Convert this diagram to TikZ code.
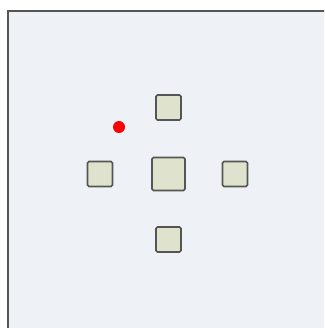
\documentclass[tikz,border=0pt]{standalone}
\usepackage{tikz}
\usetikzlibrary{positioning}
\usepackage{xcolor}
\definecolor{panelbg}{HTML}{EEF1F6}
\definecolor{edgegray}{HTML}{555555}
\definecolor{blockfill}{HTML}{DFE2CC}
\definecolor{markred}{HTML}{FF0000}

\begin{document}
\begin{tikzpicture}[x=1pt, y=-1pt,
    block/.style={draw=edgegray, fill=blockfill, line width=1.6pt, rounded corners=1.5pt, minimum size=25pt, inner sep=0pt},
    bigblock/.style={block, minimum size=33pt}]
                \useasboundingbox (0,0) rectangle (324,328);
                \clip (0,0) rectangle (324,328);
                \node[draw=edgegray, fill=panelbg, line width=2pt, minimum width=420pt, minimum height=420pt, anchor=north west] (panel) at (7,10) {};
                \node[bigblock] (core) at (168.5,174) {};
                \node[block] (north) at (168.5,107.5) {};
                \node[block] (south) at (168.5,239.5) {};
                \node[block] (west) at (100,174) {};
                \node[block] (east) at (235,174) {};
                \node[circle, fill=markred, minimum size=12pt, inner sep=0pt] (dot) at (119,127) {};
            \end{tikzpicture}
\end{document}
